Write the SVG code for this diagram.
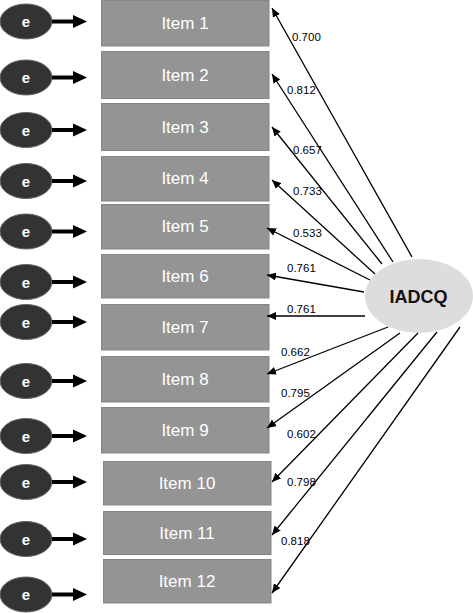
<svg xmlns="http://www.w3.org/2000/svg" width="473" height="613" viewBox="0 0 473 613">
<style>
.box{fill:#949494;stroke:#858585;stroke-width:1}
.itxt{font-family:"Liberation Sans",Arial,sans-serif;font-size:17px;fill:#fff;text-anchor:middle}
.err{fill:#333;stroke:#666;stroke-width:1}
.etxt{font-family:"Liberation Sans",Arial,sans-serif;font-size:15px;font-weight:bold;fill:#fff;text-anchor:middle}
.ea{stroke:#000;stroke-width:4}
.con{stroke:#000;stroke-width:1.3;fill:none;marker-end:url(#ah)}
.lbl{font-family:"Liberation Sans",Arial,sans-serif;font-size:11.5px;fill:#000}
</style>
<defs>
<marker id="ah" markerUnits="userSpaceOnUse" markerWidth="10" markerHeight="8" refX="9" refY="4" orient="auto">
<path d="M0,0 L9,4 L0,8 Z" fill="#000"/>
</marker>
<polygon id="eh" points="0,-6.5 14,0 0,6.5" fill="#000"/>
</defs>
<g id="items">
<g id="item1"><rect class="box" x="101.5" y="0.5" width="167.5" height="45.5"/><text class="itxt" x="185" y="29">Item 1</text></g>
<g id="item2"><rect class="box" x="101.5" y="51.5" width="167.5" height="47"/><text class="itxt" x="185" y="81">Item 2</text></g>
<g id="item3"><rect class="box" x="101.5" y="103.5" width="167.5" height="47"/><text class="itxt" x="185" y="133">Item 3</text></g>
<g id="item4"><rect class="box" x="101.5" y="156.5" width="167.5" height="44.5"/><text class="itxt" x="185" y="184">Item 4</text></g>
<g id="item5"><rect class="box" x="101.5" y="204.5" width="167.5" height="44.5"/><text class="itxt" x="185" y="232">Item 5</text></g>
<g id="item6"><rect class="box" x="101.5" y="254.5" width="167.5" height="43.5"/><text class="itxt" x="185" y="282">Item 6</text></g>
<g id="item7"><rect class="box" x="101.5" y="304.5" width="167.5" height="45.5"/><text class="itxt" x="185" y="333">Item 7</text></g>
<g id="item8"><rect class="box" x="101.5" y="356.5" width="167.5" height="45.5"/><text class="itxt" x="185" y="385">Item 8</text></g>
<g id="item9"><rect class="box" x="101.5" y="407.5" width="167.5" height="45.5"/><text class="itxt" x="185" y="436">Item 9</text></g>
<g id="item10"><rect class="box" x="103.5" y="461.5" width="167.5" height="43.5"/><text class="itxt" x="187" y="489">Item 10</text></g>
<g id="item11"><rect class="box" x="103.5" y="511.5" width="167.5" height="43"/><text class="itxt" x="187" y="539">Item 11</text></g>
<g id="item12"><rect class="box" x="103.5" y="559.5" width="167.5" height="43.5"/><text class="itxt" x="187" y="587">Item 12</text></g>
</g>
<g id="errors">
<g id="e1"><ellipse class="err" cx="26" cy="21.5" rx="26" ry="17.5"/><text class="etxt" x="26" y="27">e</text></g>
<g id="e2"><ellipse class="err" cx="26" cy="77.5" rx="26" ry="17.5"/><text class="etxt" x="26" y="83">e</text></g>
<g id="e3"><ellipse class="err" cx="26" cy="130" rx="26" ry="17.5"/><text class="etxt" x="26" y="135.5">e</text></g>
<g id="e4"><ellipse class="err" cx="26" cy="181" rx="26" ry="17.5"/><text class="etxt" x="26" y="186.5">e</text></g>
<g id="e5"><ellipse class="err" cx="26" cy="231.5" rx="26" ry="17.5"/><text class="etxt" x="26" y="237">e</text></g>
<g id="e6"><ellipse class="err" cx="26" cy="282" rx="26" ry="17.5"/><text class="etxt" x="26" y="287.5">e</text></g>
<g id="e7"><ellipse class="err" cx="26" cy="322" rx="26" ry="17.5"/><text class="etxt" x="26" y="327.5">e</text></g>
<g id="e8"><ellipse class="err" cx="26" cy="381" rx="26" ry="17.5"/><text class="etxt" x="26" y="386.5">e</text></g>
<g id="e9"><ellipse class="err" cx="26" cy="436" rx="26" ry="17.5"/><text class="etxt" x="26" y="441.5">e</text></g>
<g id="e10"><ellipse class="err" cx="26" cy="482" rx="26" ry="17.5"/><text class="etxt" x="26" y="487.5">e</text></g>
<g id="e11"><ellipse class="err" cx="26" cy="539" rx="26" ry="17.5"/><text class="etxt" x="26" y="544.5">e</text></g>
<g id="e12"><ellipse class="err" cx="26" cy="594.5" rx="26" ry="17.5"/><text class="etxt" x="26" y="600">e</text></g>
</g>
<g id="latent"><ellipse cx="419" cy="296" rx="54" ry="37" fill="#dddddd"/><text x="418.5" y="302.5" font-family="'Liberation Sans',Arial,sans-serif" font-size="18" font-weight="bold" text-anchor="middle" fill="#111">IADCQ</text></g>
<g id="connectors">
<line class="ea" x1="52" y1="21.5" x2="74" y2="21.5"/><use href="#eh" x="73" y="21.5"/>
<line class="ea" x1="52" y1="77.5" x2="74" y2="77.5"/><use href="#eh" x="73" y="77.5"/>
<line class="ea" x1="52" y1="130" x2="74" y2="130"/><use href="#eh" x="73" y="130"/>
<line class="ea" x1="52" y1="181" x2="74" y2="181"/><use href="#eh" x="73" y="181"/>
<line class="ea" x1="52" y1="231.5" x2="74" y2="231.5"/><use href="#eh" x="73" y="231.5"/>
<line class="ea" x1="52" y1="282" x2="74" y2="282"/><use href="#eh" x="73" y="282"/>
<line class="ea" x1="52" y1="322" x2="74" y2="322"/><use href="#eh" x="73" y="322"/>
<line class="ea" x1="52" y1="381" x2="74" y2="381"/><use href="#eh" x="73" y="381"/>
<line class="ea" x1="52" y1="436" x2="74" y2="436"/><use href="#eh" x="73" y="436"/>
<line class="ea" x1="52" y1="482" x2="74" y2="482"/><use href="#eh" x="73" y="482"/>
<line class="ea" x1="52" y1="539" x2="74" y2="539"/><use href="#eh" x="73" y="539"/>
<line class="ea" x1="52" y1="594.5" x2="74" y2="594.5"/><use href="#eh" x="73" y="594.5"/>
<line class="con" x1="412" y1="257" x2="272" y2="8"/>
<line class="con" x1="393" y1="262" x2="272" y2="74"/>
<line class="con" x1="382" y1="264" x2="272" y2="127"/>
<line class="con" x1="375" y1="274" x2="272" y2="180"/>
<line class="con" x1="370" y1="280" x2="267" y2="228"/>
<line class="con" x1="364" y1="292" x2="267" y2="275"/>
<line class="con" x1="365" y1="316" x2="267" y2="316"/>
<line class="con" x1="388" y1="327" x2="267" y2="374"/>
<line class="con" x1="400" y1="333" x2="267" y2="428"/>
<line class="con" x1="418" y1="333" x2="272" y2="482"/>
<line class="con" x1="437" y1="332" x2="272" y2="535"/>
<line class="con" x1="460" y1="327" x2="272" y2="593"/>
</g>
<g id="labels">
<text class="lbl" x="292" y="41">0.700</text>
<text class="lbl" x="287" y="94">0.812</text>
<text class="lbl" x="293" y="154">0.657</text>
<text class="lbl" x="293" y="195">0.733</text>
<text class="lbl" x="293" y="237">0.533</text>
<text class="lbl" x="287" y="272">0.761</text>
<text class="lbl" x="287" y="313">0.761</text>
<text class="lbl" x="281" y="356">0.662</text>
<text class="lbl" x="281" y="397">0.795</text>
<text class="lbl" x="287" y="438">0.602</text>
<text class="lbl" x="287" y="486">0.798</text>
<text class="lbl" x="281" y="545">0.818</text>
</g>
</svg>
